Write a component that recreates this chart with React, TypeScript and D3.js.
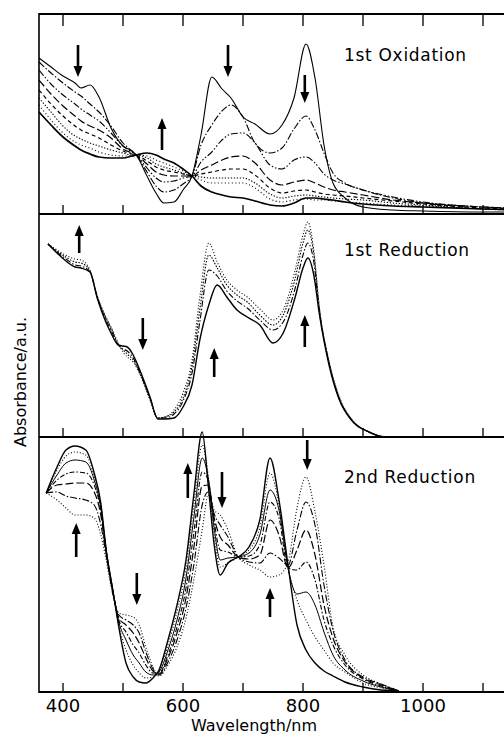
import React from "react";
import * as d3 from "d3";

// ---- 1st Oxidation (absorbance, a.u.) ----
const oxWave = [360, 380, 400, 420, 430, 445, 460, 480, 500, 515, 522, 540, 555, 568, 585, 600, 615, 630, 648, 665, 680, 700, 720, 745, 765, 785, 805, 820, 835, 850, 870, 900, 950, 1000, 1100, 1200];
const oxInitial = [156, 147, 138, 131, 126, 129, 117, 86, 68, 63, 59, 38, 21, 11, 12, 24, 38, 79, 137, 125, 116, 97, 90, 80, 89, 116, 170, 136, 69, 31, 16, 7, 4, 3, 2, 2];
const oxStep1 = [152, 141, 131, 122, 118, 110, 102, 88, 71, 63, 59, 42, 28, 22, 24, 30, 38, 69, 89, 103, 109, 97, 71, 61, 66, 85, 98, 84, 61, 41, 31, 24, 16, 11, 7, 5];
const oxStep2 = [144, 130, 119, 110, 105, 99, 93, 81, 68, 62, 59, 46, 36, 32, 33, 36, 38, 52, 62, 74, 80, 81, 71, 49, 45, 54, 57, 51, 40, 34, 30, 24, 17, 12, 7, 5];
const oxStep3 = [134, 120, 108, 98, 93, 88, 84, 76, 65, 61, 59, 50, 42, 39, 38, 38, 38, 44, 49, 54, 57, 58, 51, 34, 29, 32, 34, 31, 27, 24, 22, 19, 14, 11, 7, 5];
const oxStep4 = [124, 110, 98, 88, 84, 80, 76, 69, 63, 60, 59, 53, 47, 44, 42, 40, 38, 40, 42, 44, 45, 45, 39, 26, 21, 23, 24, 22, 20, 19, 18, 16, 13, 10, 6, 4];
const oxStep5 = [116, 102, 88, 78, 75, 71, 68, 64, 61, 59, 59, 56, 50, 47, 44, 41, 38, 37, 36, 36, 36, 36, 31, 20, 16, 18, 19, 18, 17, 16, 15, 14, 11, 9, 5, 3];
const oxStep6 = [109, 94, 81, 72, 69, 66, 62, 59, 58, 58, 59, 58, 54, 51, 47, 43, 38, 34, 31, 31, 31, 31, 26, 15, 12, 14, 15, 14, 14, 13, 12, 11, 9, 8, 5, 3];
const oxFinal = [102, 89, 77, 68, 64, 60, 57, 56, 56, 58, 59, 61, 59, 55, 51, 45, 38, 28, 22, 19, 17, 16, 13, 9, 8, 11, 16, 16, 15, 14, 12, 10, 8, 7, 5, 4];

// ---- 1st Reduction ----
const red1Wave = [375, 390, 407, 420, 430, 445, 457, 470, 480, 492, 500, 507, 517, 528, 545, 558, 570, 585, 600, 615, 628, 643, 657, 673, 690, 707, 728, 750, 767, 787, 800, 808, 818, 827, 843, 860, 882, 910, 937, 960];
const red1Step1 = [193, 187, 181, 178, 177, 167, 141, 122, 110, 94, 85, 80, 75, 63, 37, 19, 20, 27, 44, 77, 140, 194, 175, 157, 147, 140, 128, 117, 127, 167, 202, 215, 187, 132, 77, 41, 17, 5, 0, 0];
const red1Step2 = [193, 186, 179, 175, 174, 166, 141, 121, 109, 93, 87, 83, 77, 64, 38, 19, 20, 25, 39, 71, 127, 182, 169, 152, 142, 135, 122, 112, 122, 159, 194, 207, 183, 130, 76, 40, 17, 5, 0, 0];
const red1Step3 = [193, 185, 177, 172, 171, 165, 140, 119, 107, 92, 88, 86, 79, 65, 39, 19, 19, 23, 36, 64, 115, 167, 161, 146, 136, 129, 117, 107, 115, 149, 182, 194, 175, 127, 75, 39, 16, 5, 0, 0];
const red1Start = [193, 184, 175, 170, 169, 165, 139, 117, 104, 92, 91, 90, 82, 67, 40, 18, 18, 19, 30, 52, 97, 132, 152, 140, 127, 120, 112, 94, 104, 140, 169, 179, 162, 124, 73, 38, 16, 5, 0, 0];

// ---- 2nd Reduction ----
const red2Wave = [372, 390, 405, 420, 438, 452, 463, 472, 483, 493, 505, 517, 527, 538, 550, 560, 575, 590, 605, 618, 632, 642, 652, 662, 675, 692, 710, 728, 745, 760, 775, 790, 805, 820, 835, 850, 870, 900, 930, 960];
const red2Start = [199, 192, 184, 177, 177, 174, 157, 132, 97, 79, 77, 75, 67, 45, 25, 16, 27, 45, 74, 112, 162, 197, 182, 177, 162, 135, 127, 122, 115, 117, 130, 184, 215, 180, 127, 65, 37, 17, 8, 1];
const red2Step1 = [199, 200, 196, 194, 192, 187, 167, 137, 99, 77, 72, 67, 59, 40, 23, 17, 30, 52, 84, 127, 187, 200, 178, 167, 155, 135, 130, 129, 139, 134, 127, 162, 190, 167, 107, 62, 32, 15, 8, 1];
const red2Step2 = [199, 207, 208, 209, 209, 200, 177, 139, 100, 74, 67, 59, 49, 34, 21, 18, 34, 59, 94, 144, 206, 207, 174, 155, 147, 135, 133, 137, 172, 157, 124, 142, 162, 137, 87, 54, 30, 14, 7, 1];
const red2Step3 = [199, 212, 218, 220, 219, 207, 182, 140, 101, 72, 60, 47, 39, 27, 19, 19, 37, 65, 104, 159, 220, 212, 170, 142, 140, 135, 136, 147, 190, 174, 124, 122, 130, 112, 72, 47, 27, 13, 6, 1];
const red2Step4 = [199, 217, 229, 232, 230, 212, 184, 142, 102, 70, 52, 37, 29, 20, 17, 20, 42, 72, 114, 174, 234, 214, 164, 132, 134, 135, 139, 157, 202, 182, 124, 98, 100, 87, 60, 37, 22, 11, 5, 1];
const red2Step5 = [199, 222, 236, 240, 237, 216, 187, 142, 102, 67, 42, 27, 19, 14, 15, 21, 47, 80, 124, 187, 247, 217, 157, 125, 129, 135, 142, 164, 219, 187, 124, 92, 72, 55, 42, 29, 20, 9, 4, 1];
const red2Final = [199, 225, 242, 246, 242, 219, 189, 142, 102, 65, 29, 15, 10, 9, 14, 22, 52, 87, 132, 197, 260, 207, 147, 117, 129, 135, 145, 172, 234, 192, 127, 67, 42, 29, 21, 16, 10, 5, 2, 1];

// arrows: [wavelength, from, to]
const oxArrows = [[425, 169, 137], [565, 64, 96], [675, 169, 137], [803, 139, 111]];
const red1Arrows = [[427, 184, 212], [533, 119, 87], [652, 60, 89], [803, 90, 122]];
const red2Arrows = [[422, 135, 169], [523, 119, 87], [608, 194, 229], [665, 220, 184], [745, 75, 104], [807, 252, 222]];

const tickWaves = [400, 500, 600, 700, 800, 900, 1000, 1100];
const tickLabels = [400, 600, 800, 1000];

export default function App() {
  const W = 504, H = 737;
  const x = d3.scaleLinear().domain([360, 1200]).range([39, 543]);
  const font = "DejaVu Sans, sans-serif";

  const panels = [
    {
      wave: oxWave, yMax: 200, top: 14, bottom: 214, title: "1st Oxidation", titleDy: 47, arrows: oxArrows,
      curves: [
        { v: oxInitial, dash: "", w: 1.1 },
        { v: oxStep1, dash: "7,2,1.5,2", w: 1.1 },
        { v: oxStep2, dash: "7,2,1.5,2,1.5,2", w: 1.1 },
        { v: oxStep3, dash: "8,3", w: 1.2 },
        { v: oxStep4, dash: "4,3", w: 1.2 },
        { v: oxStep5, dash: "1.3,1.7", w: 1.1 },
        { v: oxStep6, dash: "1,2.5", w: 1.1 },
        { v: oxFinal, dash: "", w: 1.7 },
      ],
    },
    {
      wave: red1Wave, yMax: 223, top: 214, bottom: 437, title: "1st Reduction", titleDy: 42, arrows: red1Arrows,
      curves: [
        { v: red1Step1, dash: "1,2", w: 1.1 },
        { v: red1Step2, dash: "1.5,1.5", w: 1.1 },
        { v: red1Step3, dash: "6,2,1.5,2", w: 1.1 },
        { v: red1Start, dash: "", w: 1.4 },
      ],
    },
    {
      wave: red2Wave, yMax: 255, top: 437, bottom: 692, title: "2nd Reduction", titleDy: 46, arrows: red2Arrows,
      curves: [
        { v: red2Start, dash: "1,2", w: 1.1 },
        { v: red2Step1, dash: "7,2,1.5,2", w: 1.1 },
        { v: red2Step2, dash: "8,3", w: 1.2 },
        { v: red2Step3, dash: "5,2,1.5,2", w: 1.1 },
        { v: red2Step4, dash: "", w: 1.0 },
        { v: red2Step5, dash: "1,2", w: 1.1 },
        { v: red2Final, dash: "", w: 1.4 },
      ],
    },
  ];

  return (
    <div style={{ position: "absolute", left: 0, top: 0 }}>
      <svg width={W} height={H} style={{ display: "block", background: "#fff", overflow: "hidden" }}>
        {panels.map((p, pi) => {
          const y = d3.scaleLinear().domain([0, p.yMax]).range([p.bottom, p.top]);
          const line = d3.line<number>()
            .x((_, i) => x(p.wave[i]))
            .y((d) => y(d))
            .curve(d3.curveMonotoneX);
          return (
            <g key={pi}>
              {p.curves.map((c, ci) => (
                <path key={ci} d={line(c.v) || ""} fill="none" stroke="#000"
                  strokeWidth={c.w} strokeDasharray={c.dash || undefined} />
              ))}
              {tickWaves.map((t) => (
                <line key={t} x1={x(t)} x2={x(t)} y1={p.bottom} y2={p.bottom - 9} stroke="#000" strokeWidth={1.3} />
              ))}
              {pi === 0 && tickWaves.map((t) => (
                <line key={"t" + t} x1={x(t)} x2={x(t)} y1={p.top} y2={p.top + 12} stroke="#000" strokeWidth={1.3} />
              ))}
              <line x1={39} x2={W} y1={p.bottom} y2={p.bottom} stroke="#000" strokeWidth={2} />
              {pi === 0 && <line x1={39} x2={W} y1={p.top} y2={p.top} stroke="#000" strokeWidth={2} />}
              <text x={344} y={p.top + p.titleDy} fontFamily={font} fontSize={17} letterSpacing={0.7}>{p.title}</text>
              {p.arrows.map((a, ai) => {
                const ax = x(a[0]);
                const y0 = y(a[1]);
                const y1 = y(a[2]);
                const dir = y1 > y0 ? 1 : -1;
                const headLen = 11;
                return (
                  <g key={ai}>
                    <line x1={ax} x2={ax} y1={y0} y2={y1 - dir * headLen} stroke="#000" strokeWidth={2.6} />
                    <path d={`M${ax - 4.5},${y1 - dir * headLen} L${ax + 4.5},${y1 - dir * headLen} L${ax},${y1} Z`} fill="#000" />
                  </g>
                );
              })}
            </g>
          );
        })}
        <line x1={39} x2={39} y1={13} y2={693} stroke="#000" strokeWidth={1.6} />
        {tickLabels.map((t) => (
          <text key={t} x={x(t)} y={712} textAnchor="middle" fontFamily={font} fontSize={18}>{t}</text>
        ))}
        <text x={254} y={731} textAnchor="middle" fontFamily={font} fontSize={16}>Wavelength/nm</text>
        <text transform="translate(26,382) rotate(-90)" textAnchor="middle" fontFamily={font} fontSize={16}>Absorbance/a.u.</text>
      </svg>
    </div>
  );
}
